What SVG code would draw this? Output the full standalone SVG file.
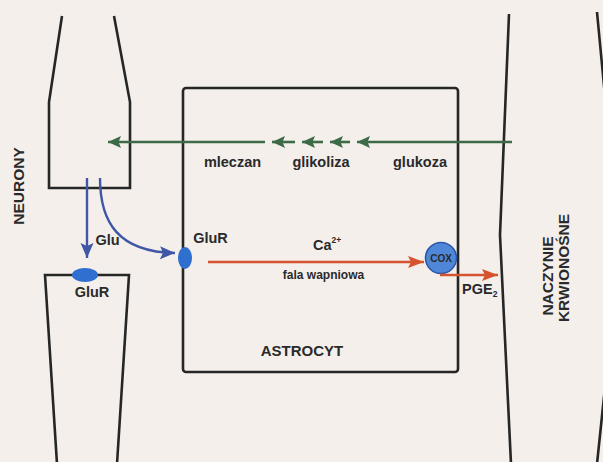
<svg xmlns="http://www.w3.org/2000/svg" width="603" height="462" viewBox="0 0 603 462">
<style>
.wall{fill:none;stroke:#262626;stroke-width:2.6;stroke-linejoin:miter}
.lbl{font-family:"Liberation Sans",Arial,sans-serif;font-weight:bold;fill:#2a2a2a}
.g{stroke:#3d6b47;stroke-width:2.6;fill:none}
.b{stroke:#3f57a6;stroke-width:2.4;fill:none}
.r{stroke:#d6532f;stroke-width:2.6;fill:none}
</style>
<defs>
<marker id="mg" markerUnits="userSpaceOnUse" markerWidth="16" markerHeight="14" refX="13" refY="6" orient="auto"><path d="M0,0 L13,6 L0,12 L2.5,6 z" fill="#3d6b47"/></marker>
<marker id="mb" markerUnits="userSpaceOnUse" markerWidth="18" markerHeight="14" refX="15" refY="6.5" orient="auto"><path d="M0,0 L15,6.5 L0,13 L3,6.5 z" fill="#3f57a6"/></marker>
<marker id="mr" markerUnits="userSpaceOnUse" markerWidth="18" markerHeight="14" refX="16" refY="6" orient="auto"><path d="M0,0 L16,6 L0,12 L3,6 z" fill="#d6532f"/></marker>
</defs>
<rect width="603" height="462" fill="#f4efea"/>

<g id="neuron-top">
<path class="wall" d="M62,16 L49,102 L49,188 L130,188 L130,102 L114,16"/>
</g>
<g id="neuron-bottom">
<path class="wall" d="M57,464 L45,275 L129,275 L117,464"/>
<ellipse cx="85" cy="275" rx="13" ry="7" fill="#2f6fd0"/>
<text class="lbl" x="92" y="297" font-size="14.5" text-anchor="middle">GluR</text>
</g>
<text class="lbl" font-size="15.5" text-anchor="middle" transform="translate(24,186) rotate(-90)">NEURONY</text>

<g id="astrocyt">
<rect class="wall" x="183" y="88" width="275" height="284" rx="3"/>
<ellipse cx="185" cy="258" rx="7" ry="11" fill="#2f6fd0"/>
<text class="lbl" x="210.5" y="243" font-size="14.5" text-anchor="middle">GluR</text>
<text class="lbl" x="302" y="356" font-size="15" text-anchor="middle">ASTROCYT</text>
<text class="lbl" x="313" y="250" font-size="14.5">Ca<tspan font-size="8.5" dy="-7">2+</tspan></text>
<text class="lbl" x="323.5" y="279" font-size="12" text-anchor="middle">fala wapniowa</text>
</g>

<g id="cox">
<circle cx="441" cy="258" r="15.5" fill="#4f86d8" stroke="#2d56a8" stroke-width="1.5"/>
<text class="lbl" x="441" y="261.5" font-size="10" text-anchor="middle" fill="#3a3a3a">COX</text>
</g>

<g id="naczynie">
<path class="wall" d="M509,14 L500,235 L511,464"/>
<path class="wall" d="M597,12 L612,170 L612,320 L597,464"/>
<text class="lbl" font-size="15.5" text-anchor="middle" transform="translate(553,276) rotate(-90)">NACZYNIE</text>
<text class="lbl" font-size="15.5" text-anchor="middle" transform="translate(569,268) rotate(-90)">KRWIONOŚNE</text>
</g>

<g id="labels">
<text class="lbl" x="232.5" y="167" font-size="14.5" text-anchor="middle">mleczan</text>
<text class="lbl" x="321" y="167" font-size="14.5" text-anchor="middle">glikoliza</text>
<text class="lbl" x="420" y="167" font-size="14.5" text-anchor="middle">glukoza</text>
<text class="lbl" x="107.5" y="245" font-size="14.5" text-anchor="middle">Glu</text>
<text class="lbl" x="462" y="294" font-size="14.5">PGE<tspan font-size="8.5" dy="3">2</tspan></text>
</g>

<g id="connectors">
<line class="g" x1="512" y1="142" x2="357" y2="142" marker-end="url(#mg)"/>
<line class="g" x1="350" y1="142" x2="330" y2="142" marker-end="url(#mg)"/>
<line class="g" x1="323" y1="142" x2="302" y2="142" marker-end="url(#mg)"/>
<line class="g" x1="295" y1="142" x2="272" y2="142" marker-end="url(#mg)"/>
<line class="g" x1="265" y1="142" x2="108" y2="142" marker-end="url(#mg)"/>
<line class="b" x1="87" y1="178" x2="87" y2="258" marker-end="url(#mb)"/>
<path class="b" d="M100,178 C100,222 118,252 175,253" marker-end="url(#mb)"/>
<line class="r" x1="208" y1="262" x2="424" y2="262" marker-end="url(#mr)"/>
<line class="r" x1="440" y1="275" x2="498" y2="275" marker-end="url(#mr)"/>
</g>
</svg>
